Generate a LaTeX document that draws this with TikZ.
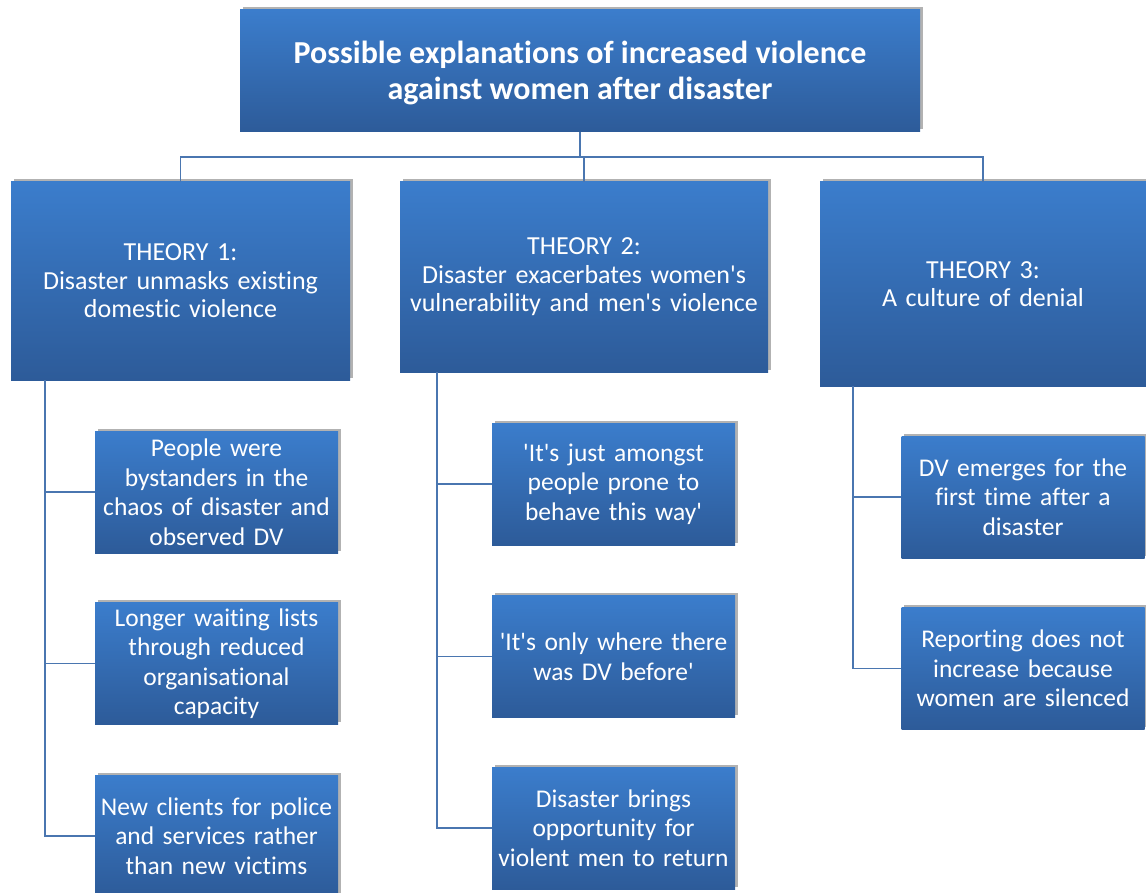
\documentclass[tikz,border=0pt]{standalone}
\usepackage{fontspec}
\setmainfont{Carlito}[Ligatures={NoCommon}]
\usetikzlibrary{shadows}
\definecolor{boxtop}{RGB}{59,125,204}
\definecolor{boxbot}{RGB}{45,91,153}
\definecolor{conncol}{RGB}{74,118,176}
\newcommand{\sq}{\textquotesingle}
\tikzset{
  box/.style={rectangle, inner sep=0pt, top color=boxtop, bottom color=boxbot, draw=none,
    text=white, align=center,
    drop shadow={shadow xshift=2.5pt, shadow yshift=2.5pt, opacity=0.3, fill=black}},
  kid/.style={box, minimum width=243pt, minimum height=122pt, text width=241pt,
    font=\fontsize{25.5}{29.5}\selectfont},
  theory/.style={box, font=\fontsize{26}{28.5}\selectfont},
  conn/.style={draw=conncol, line width=1.8pt}
}
\begin{document}
\begin{tikzpicture}[x=1pt,y=-1pt]
\useasboundingbox (0,0) rectangle (1146,893);
\node[box, minimum width=680pt, minimum height=122pt,
  font=\bfseries\fontsize{32}{35}\selectfont] (top) at (580,71)
  {\raisebox{-4pt}[\height][\depth]{\begin{tabular}{@{}c@{}}Possible explanations of increased violence\\[1pt]against women after disaster\end{tabular}}};
\node[theory, minimum width=339pt, minimum height=198pt, text width=335pt] (t1) at (180.5,281)
  {THEORY 1:\\Disaster unmasks existing\\domestic violence};
\node[theory, minimum width=368pt, minimum height=190pt, text width=366pt] (t2) at (584,277)
  {THEORY 2:\\Disaster exacerbates women\sq s\\vulnerability and men\sq s violence};
\node[theory, minimum width=326pt, minimum height=204pt, text width=322pt] (t3) at (983,284)
  {THEORY 3:\\A culture of denial};
\node[kid] (c1) at (216.5,492) {People were\\bystanders in the\\chaos of disaster and\\observed DV};
\node[kid] (c2) at (216.5,663.5) {Longer waiting lists\\through reduced\\organisational\\capacity};
\node[kid] (c3) at (216.5,836) {New clients for police\\and services rather\\than new victims};
\node[kid] (d1) at (613.5,484) {\sq It\sq s just amongst\\people prone to\\behave this way\sq};
\node[kid] (d2) at (613.5,656.5) {\sq It\sq s only where there\\was DV before\sq};
\node[kid] (d3) at (613.5,828) {Disaster brings\\opportunity for\\violent men to return};
\node[kid] (e1) at (1023,497) {DV emerges for the\\first time after a\\disaster};
\node[kid] (e2) at (1023,668.5) {Reporting does not\\increase because\\women are silenced};
% connectors
\draw[conn] (top.south) -- ++(0,24);
\draw[conn] (t1.north) -- ++(0,-25) -| (t3.north);
\draw[conn] (t2.north) -- ++(0,-25);
\draw[conn] ([xshift=34pt]t1.south west) |- (c3.west);
\draw[conn] ([xshift=34pt]t1.south west |- c1.west) -- (c1.west);
\draw[conn] ([xshift=34pt]t1.south west |- c2.west) -- (c2.west);
\draw[conn] ([xshift=37pt]t2.south west) |- (d3.west);
\draw[conn] ([xshift=37pt]t2.south west |- d1.west) -- (d1.west);
\draw[conn] ([xshift=37pt]t2.south west |- d2.west) -- (d2.west);
\draw[conn] ([xshift=33pt]t3.south west) |- (e2.west);
\draw[conn] ([xshift=33pt]t3.south west |- e1.west) -- (e1.west);
\end{tikzpicture}
\end{document}
